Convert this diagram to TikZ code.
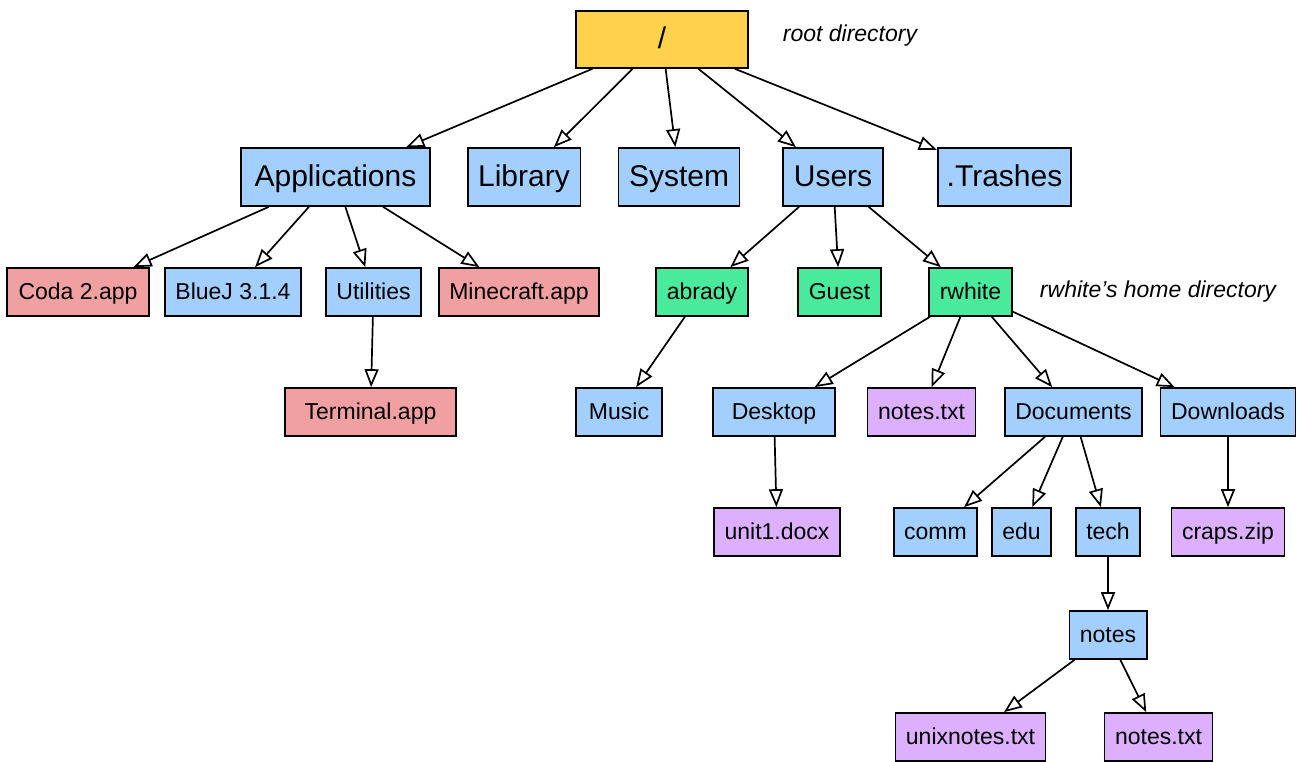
\documentclass[tikz,border=0pt]{standalone}
\usepackage{fontspec}
\setmainfont{Liberation Sans}
\usetikzlibrary{arrows.meta}
\definecolor{rootyellow}{RGB}{255,209,77}
\definecolor{dirblue}{RGB}{163,207,255}
\definecolor{appred}{RGB}{240,160,160}
\definecolor{usergreen}{RGB}{74,234,156}
\definecolor{filepurple}{RGB}{221,176,255}
\begin{document}
\begin{tikzpicture}[x=1pt,y=-1pt,
    box/.style={draw, line width=1.7pt, inner xsep=10.5pt, inner ysep=0pt,
      text height=16.5pt, text depth=2pt,
      font=\fontsize{23}{27}\selectfont, minimum height=48pt},
    bigbox/.style={box, font=\fontsize{30}{36}\selectfont, minimum height=58pt,
      text height=22pt, text depth=3pt},
    dir/.style={box, fill=dirblue},
    app/.style={box, fill=appred},
    user/.style={box, fill=usergreen},
    file/.style={box, fill=filepurple},
    note/.style={font=\fontsize{23}{27}\selectfont\itshape},
    edge/.style={line width=1.7pt, -{Triangle[open, length=18pt, width=14pt, line width=1.7pt]}}]
  \useasboundingbox (0,0) rectangle (1297,762);
  % top levels
  \node[bigbox, fill=rootyellow, minimum width=172pt, minimum height=57pt] (root) at (662,39.5) {/};
  \node[note] (rootlbl) at (850,36) {root directory};
  \node[bigbox, fill=dirblue, minimum width=189pt] (apps) at (335.5,177) {Applications};
  \node[bigbox, fill=dirblue] (lib) at (524,177) {Library};
  \node[bigbox, fill=dirblue] (sys) at (679,177) {System};
  \node[bigbox, fill=dirblue] (users) at (833,177) {Users};
  \node[bigbox, fill=dirblue, inner xsep=9pt] (trash) at (1004.5,177) {.Trashes};
  % second level
  \node[app, minimum width=142pt] (coda) at (78,292) {Coda 2.app};
  \node[dir] (bluej) at (233,292) {BlueJ 3.1.4};
  \node[dir] (util) at (373.5,292) {Utilities};
  \node[app] (mine) at (519,292) {Minecraft.app};
  \node[user] (abrady) at (702,292) {abrady};
  \node[user] (guest) at (839.5,292) {Guest};
  \node[user] (rwhite) at (970.5,292) {rwhite};
  \node[note] (rwlbl) at (1158,292) {rwhite’s home directory};
  % third level
  \node[app, minimum width=171pt] (term) at (370.5,412) {Terminal.app};
  \node[dir, minimum width=86pt] (music) at (619,412) {Music};
  \node[dir, minimum width=122pt] (desk) at (774,412) {Desktop};
  \node[file] (notesA) at (921.5,412) {notes.txt};
  \node[dir] (docs) at (1073.5,412) {Documents};
  \node[dir] (downl) at (1228,412) {Downloads};
  % fourth level
  \node[file] (unit) at (777,532) {unit1.docx};
  \node[dir] (comm) at (935.5,532) {comm};
  \node[dir] (edu) at (1021.5,532) {edu};
  \node[dir] (tech) at (1108,532) {tech};
  \node[file] (craps) at (1228,532) {craps.zip};
  \node[dir] (tnotes) at (1108,635) {notes};
  \node[file] (unix) at (970.5,737) {unixnotes.txt};
  \node[file] (notesB) at (1158.5,737) {notes.txt};
  % edges
  \foreach \a/\b in {root/apps, root/lib, root/sys, root/users, root/trash,
      apps/coda, apps/bluej, apps/util, apps/mine, util/term,
      users/abrady, users/guest, users/rwhite, abrady/music,
      rwhite/desk, rwhite/notesA, rwhite/docs, rwhite/downl,
      desk/unit, docs/comm, docs/edu, docs/tech, downl/craps,
      tech/tnotes, tnotes/unix, tnotes/notesB}
    \draw[edge] (\a) -- (\b);
\end{tikzpicture}
\end{document}
